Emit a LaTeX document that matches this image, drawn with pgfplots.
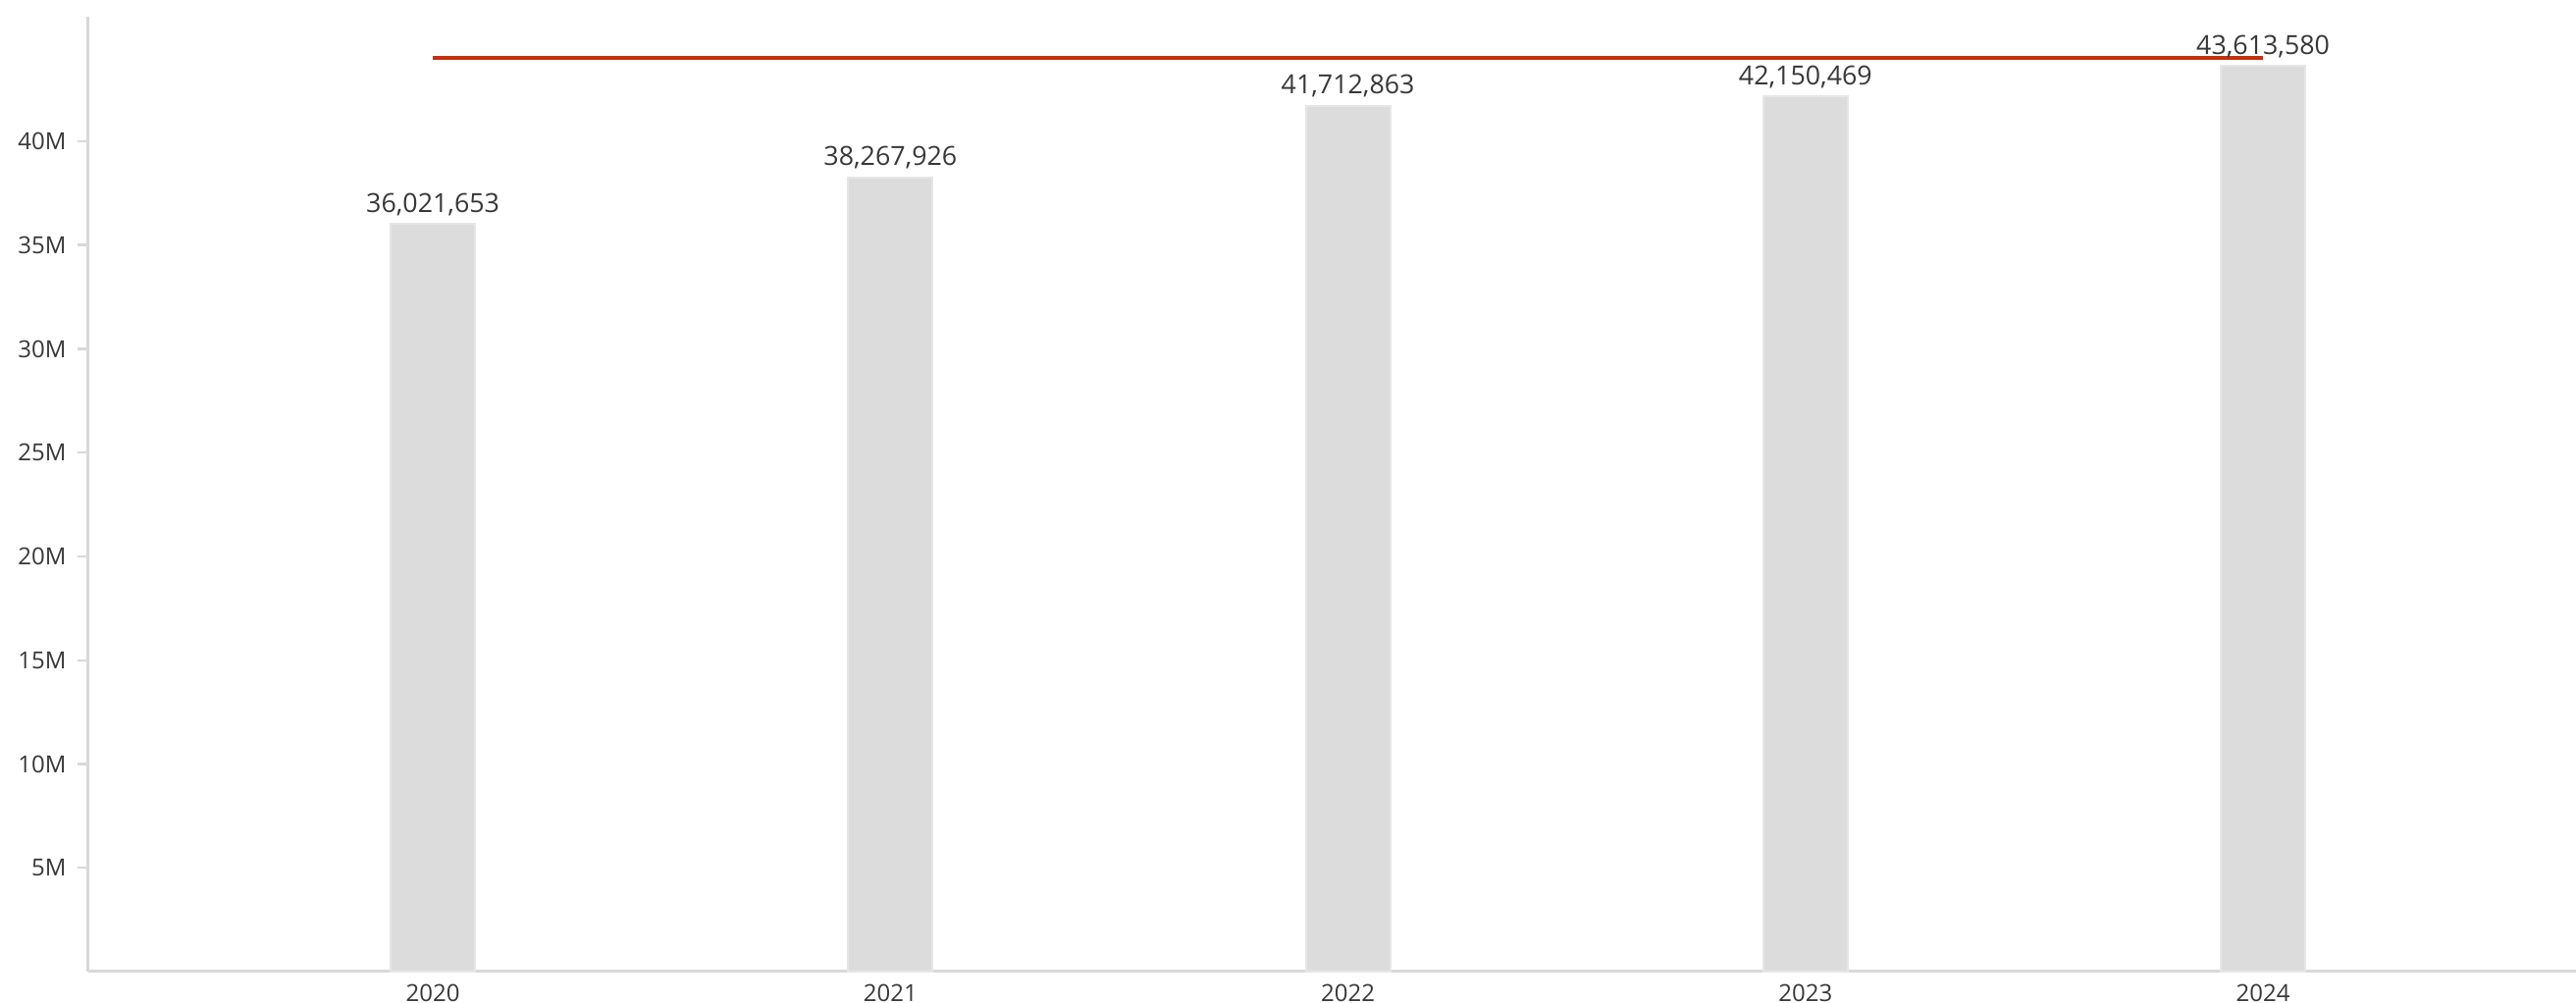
\documentclass[border=0pt]{standalone}
\usepackage{fontspec}
\setmainfont{Open Sans}
\usepackage{pgfplots}
\usepackage{pgfplotstable}
\pgfplotsset{compat=1.18}
\definecolor{axisgray}{HTML}{D9D9D9}
\definecolor{barfill}{HTML}{DCDCDC}
\definecolor{baredge}{HTML}{E6E6E6}
\definecolor{targetred}{HTML}{C23210}
\definecolor{txt}{HTML}{383838}
\pgfplotstableread{
x y label
0 36021653 36,021,653
1 38267926 38,267,926
2 41712863 41,712,863
3 42150469 42,150,469
4 43613580 43,613,580
}\bardata
\pgfplotstableread{
x y
0 44000000
4 44000000
}\linedata
\begin{document}
\begin{tikzpicture}
\begin{axis}[
  at={(0,0)}, anchor=south west,
  scale only axis,
  width=1267.5pt, height=486.5pt,
  xmin=-0.753, xmax=4.684,
  ymin=0, ymax=46000000,
  axis lines=left,
  axis line style={draw=axisgray, line width=1.5pt, -},
  xtick={0,1,2,3,4},
  xticklabels={2020,2021,2022,2023,2024},
  ytick={5000000,10000000,15000000,20000000,25000000,30000000,35000000,40000000},
  yticklabels={5M,10M,15M,20M,25M,30M,35M,40M},
  scaled y ticks=false,
  tick align=outside,
  x tick style={draw=none},
  xtick style={draw=none},
  major tick length=5.5pt,
  y tick style={draw=axisgray, line width=1.2pt},
  ticklabel style={font=\fontsize{12pt}{14pt}\selectfont, text=txt},
  yticklabel style={anchor=east, inner sep=0pt, xshift=-5.5pt},
  xticklabel style={anchor=north, inner sep=0pt, yshift=-1pt},
  clip=false,
]
\addplot[targetred, line width=2.1pt, mark=none] table[x=x,y=y] {\linedata};
\addplot[ybar, bar width=43pt, fill=barfill, draw=baredge, line width=1pt,
  point meta=explicit symbolic,
  nodes near coords,
  every node near coord/.append style={font=\fontsize{13.4pt}{15pt}\selectfont, text=txt, anchor=base, inner sep=0pt, yshift=6pt},
] table[x=x,y=y,meta=label] {\bardata};
\end{axis}
\pgfresetboundingbox
\path[use as bounding box] (-45pt,-16pt) rectangle (1267.5pt,495pt);
\end{tikzpicture}
\end{document}
